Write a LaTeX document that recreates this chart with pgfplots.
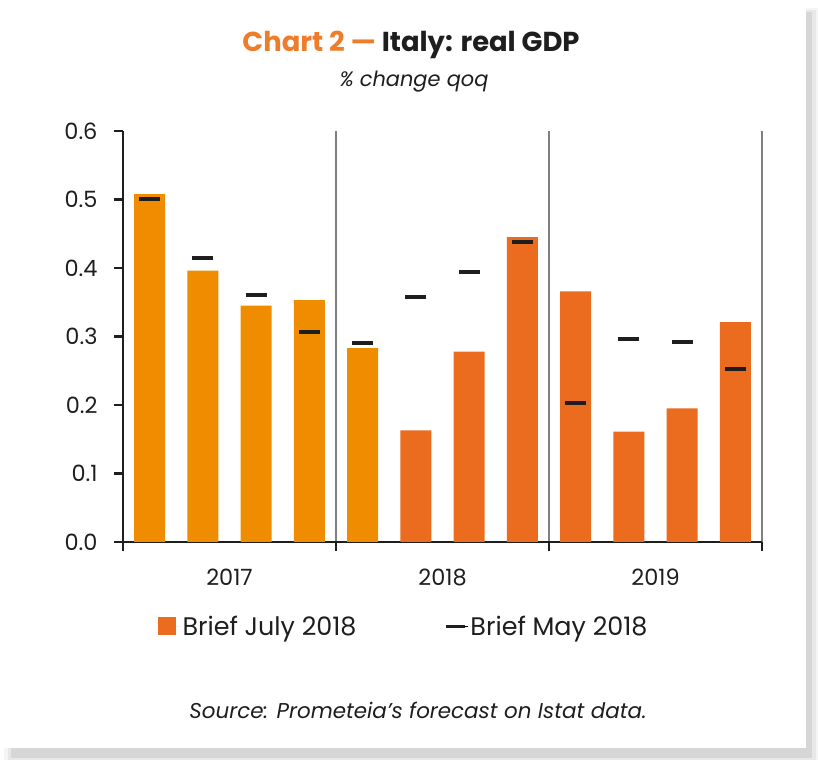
\documentclass[border=0pt]{standalone}
\usepackage{pgfplots}
\pgfplotsset{compat=1.18}
\usepackage{fontspec}
\setmainfont{Poppins}
\definecolor{lightor}{HTML}{EF8C00}
\definecolor{darkor}{HTML}{EB6C1F}
\definecolor{titleor}{HTML}{EE7D2B}
\definecolor{ink}{HTML}{1E1E1E}
\begin{document}
\begin{tikzpicture}[x=1bp,y=1bp]
% card with shadow
\fill[black!4] (4,0) rectangle (818,752);
\fill[black!9] (8,0) rectangle (816,750);
\fill[black!16] (11,2) rectangle (812,748);
\fill[white] (0,12) rectangle (806,760);
% titles
\node[font=\fontsize{27.5}{32}\selectfont\bfseries, text=ink] at (411,715) {{\color{titleor}Chart 2 —} Italy: real GDP};
\node[font=\fontsize{21}{26}\selectfont\itshape, text=ink] at (414,678) {\% change qoq};
\node[font=\fontsize{21.5}{26}\selectfont\itshape, text=ink] at (418,50) {Source: Prometeia’s forecast on Istat data.};
\begin{axis}[
  at={(123bp,218bp)}, anchor=south west,
  scale only axis, width=639bp, height=411bp,
  xmin=-0.5, xmax=11.5, ymin=0, ymax=0.6,
  axis x line*=bottom, axis y line*=left,
  axis line style={ink, line width=2.2bp},
  tick align=outside,
  major tick length=9bp,
  tick style={ink, line width=2.2bp},
  ytick={0,0.1,...,0.6},
  yticklabel style={/pgf/number format/fixed, /pgf/number format/fixed zerofill, /pgf/number format/precision=1, font=\fontsize{22.5}{26}\selectfont, text=ink, xshift=-13bp},
  /pgf/number format/assume math mode=true,
  xtick={-0.5,3.5,7.5,11.5}, xticklabels={},
  xmajorgrids, grid style={black!50, line width=1.2bp},
  extra x ticks={1.5,5.5,9.5}, extra x tick labels={2017,2018,2019},
  extra x tick style={major tick length=0pt, xmajorgrids=false, tick label style={font=\fontsize{22.5}{26}\selectfont, text=ink, yshift=-23bp}},
  legend style={at={(0.439,-0.205)}, anchor=center, draw=none, fill=none, legend columns=2,
    font=\fontsize{25.5}{30}\selectfont, text=ink,
    /tikz/every even column/.append style={column sep=86bp}},
  clip=false,
]
\addplot[ybar, bar width=0.58, bar shift=0pt, fill=darkor, draw=none,
  legend image code/.code={\path (0bp,0bp) -- (23bp,0bp); \fill[darkor] (0bp,-9bp) rectangle (18bp,9bp);}]
  coordinates {(5,0.163) (6,0.278) (7,0.445) (8,0.366) (9,0.161) (10,0.195) (11,0.321)};
\addlegendentry{Brief July 2018}
\addplot[ybar, bar width=0.58, bar shift=0pt, fill=lightor, draw=none, forget plot]
  coordinates {(0,0.508) (1,0.396) (2,0.345) (3,0.353) (4,0.283)};
\addplot[only marks, mark=-, mark size=10.5bp, mark options={line width=4bp, draw=ink},
  legend image code/.code={\path (0bp,0bp) -- (22bp,0bp); \draw[ink, line width=3.5bp] (0bp,0bp) -- (19bp,0bp);}]
  coordinates {(0,0.500) (1,0.415) (2,0.361) (3,0.307) (4,0.291) (5,0.357) (6,0.394) (7,0.438) (8,0.203) (9,0.297) (10,0.292) (11,0.253)};
\addlegendentry{Brief May 2018}
\end{axis}
\end{tikzpicture}
\end{document}
